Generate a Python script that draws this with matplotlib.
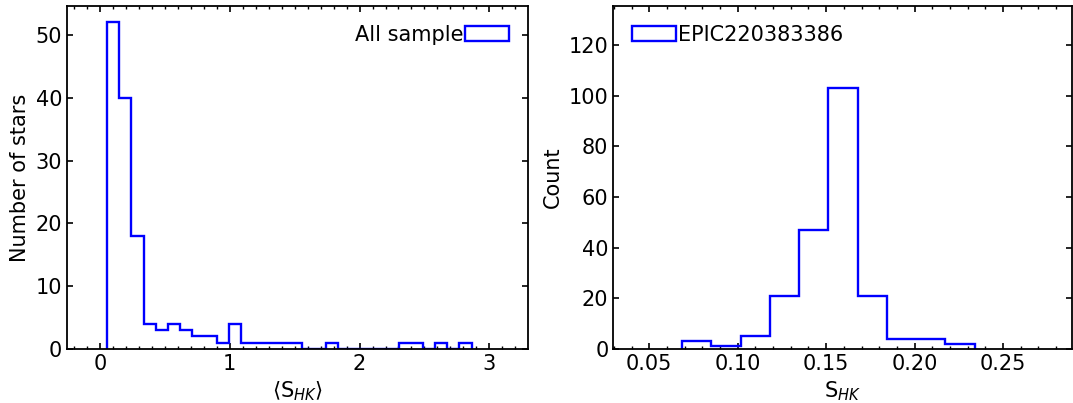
import numpy as np
import matplotlib.pyplot as plt
from matplotlib.ticker import MultipleLocator

# left panel: <S_HK> of all sample, 30 bins
all_lo, all_hi, all_nbins = 0.056, 2.863, 30
all_counts = [52, 40, 18, 4, 3, 4, 3, 2, 2, 1,
              4, 1, 1, 1, 1, 1, 0, 0, 1, 0,
              0, 0, 0, 0, 1, 1, 0, 1, 0, 1]

# right panel: S_HK of EPIC220383386, 10 bins
epic_lo, epic_hi, epic_nbins = 0.0685, 0.234, 10
epic_counts = [3, 1, 5, 21, 47, 103, 21, 4, 4, 2]

FS = 15
plt.rcParams['font.size'] = FS


def style(ax):
    ax.tick_params(which='both', direction='in', top=True, right=True,
                   labelsize=FS)
    ax.tick_params(which='major', length=4.5, width=1.2)
    ax.tick_params(which='minor', length=2.2, width=1.0)
    for sp in ax.spines.values():
        sp.set_linewidth(1.3)


fig = plt.figure(figsize=(10.73, 4.03), dpi=100)

ax1 = fig.add_axes([0.0624, 0.134, 0.4296, 0.851])
edges1 = np.linspace(all_lo, all_hi, all_nbins + 1)
ax1.hist(edges1[:-1], bins=edges1, weights=all_counts, histtype='step',
         color='blue', lw=1.7, label='All sample')
ax1.set_xlim(-0.254, 3.297)
ax1.set_ylim(0, 54.6)
ax1.xaxis.set_major_locator(MultipleLocator(1))
ax1.xaxis.set_minor_locator(MultipleLocator(0.1))
ax1.yaxis.set_major_locator(MultipleLocator(10))
ax1.set_xlabel(r'$\langle\mathrm{S}_{HK}\rangle$', fontsize=FS)
ax1.set_ylabel('Number of stars', fontsize=FS)
style(ax1)
ax1.legend(loc='upper right', frameon=False, markerfirst=False,
           handlelength=2.1, handletextpad=0.1, fontsize=FS)

ax2 = fig.add_axes([0.5716, 0.134, 0.4275, 0.851])
edges2 = np.linspace(epic_lo, epic_hi, epic_nbins + 1)
ax2.hist(edges2[:-1], bins=edges2, weights=epic_counts, histtype='step',
         color='blue', lw=1.7, label='EPIC220383386')
ax2.set_xlim(0.0297, 0.289)
ax2.set_ylim(0, 135.3)
ax2.xaxis.set_major_locator(MultipleLocator(0.05))
ax2.xaxis.set_minor_locator(MultipleLocator(0.01))
ax2.yaxis.set_major_locator(MultipleLocator(20))
ax2.set_xlabel(r'$\mathrm{S}_{HK}$', fontsize=FS)
ax2.set_ylabel('Count', fontsize=FS)
style(ax2)
ax2.legend(loc='upper left', frameon=False,
           handlelength=2.1, handletextpad=0.1, fontsize=FS)

fig.savefig('out.png', dpi=100)
